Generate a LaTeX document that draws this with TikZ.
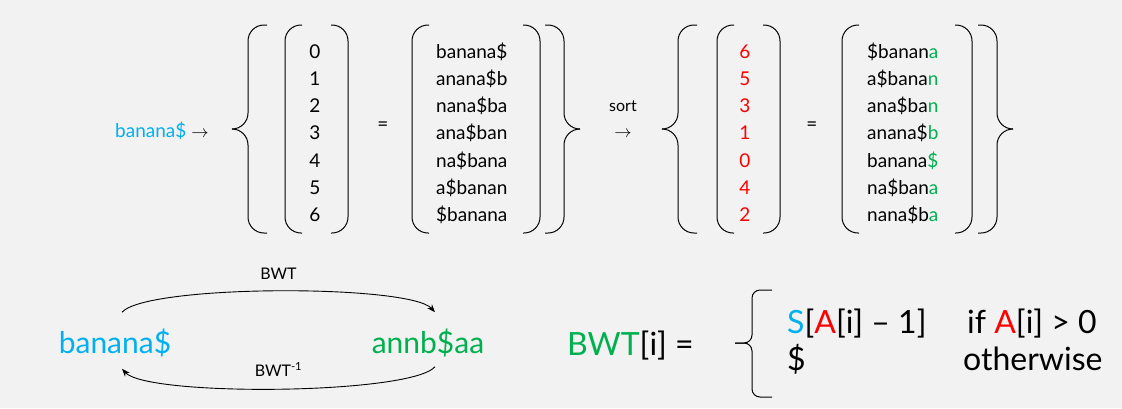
\documentclass[tikz,border=0pt]{standalone}
\usepackage{fontspec}
\setmainfont{Lato}
\usepackage{xcolor}
\usetikzlibrary{arrows.meta}

\definecolor{blau}{HTML}{00B0F0}
\definecolor{gruen}{HTML}{00B050}
\definecolor{rot}{HTML}{FF0000}
\definecolor{hintergrund}{HTML}{F2F2F2}

\begin{document}
\begin{tikzpicture}[x=1pt, y=-1pt,
    eintrag/.style={font=\fontsize{19}{23}\selectfont, inner sep=0pt},
    beschriftung/.style={font=\fontsize{16}{19}\selectfont},
    gross/.style={font=\fontsize{30}{36}\selectfont, inner sep=0pt},
    formel/.style={font=\fontsize{32}{38}\selectfont, inner sep=0pt},
    klammer/.style={line width=1pt, rounded corners=16pt},
    pfeil/.style={-{Stealth[length=8pt,width=6pt]}, line width=0.9pt}]

    % Hintergrund
    \fill[hintergrund] (0,0) rectangle (1122,408);
    \useasboundingbox (0,0) rectangle (1122,408);

    % Zeilenabstand in der Matrix
    \def\z{27.3}

    % Eingabe
    \node[eintrag, anchor=base west] (eingabe) at (115,137) {\textcolor{blau}{banana\$} $\rightarrow$};

    % geschweifte Klammern links
    \foreach \x in {232, 662} {
        \draw[klammer] (\x+35,25) -- (\x+16,25) -- (\x+16,129) -- (\x,129);
        \draw[klammer] (\x+35,233) -- (\x+16,233) -- (\x+16,129) -- (\x,129);
    }
    % geschweifte Klammern rechts
    \foreach \x in {580, 1013} {
        \draw[klammer] (\x-35,25) -- (\x-16,25) -- (\x-16,129) -- (\x,129);
        \draw[klammer] (\x-35,233) -- (\x-16,233) -- (\x-16,129) -- (\x,129);
    }

    % runde Klammern
    \foreach \l/\r in {285/348, 412/540, 717/780, 842/972} {
        \draw[klammer] (\l+17,25) -- (\l,25) -- (\l,233) -- (\l+17,233);
        \draw[klammer] (\r-17,25) -- (\r,25) -- (\r,233) -- (\r-17,233);
    }

    % Rotationen
    \foreach \n [count=\i from 0] in {0,1,2,3,4,5,6} {
        \node[eintrag, anchor=base] (zahl\i) at (315, 58+\i*\z) {\n};
    }
    \foreach \w [count=\i from 0] in {banana\$, anana\$b, nana\$ba, ana\$ban, na\$bana, a\$banan, \$banana} {
        \node[eintrag, anchor=base west] (wort\i) at (436, 58+\i*\z) {\w};
    }
    \node[eintrag, anchor=base] (gleich1) at (383,130) {=};

    % sortieren
    \node[beschriftung] (sort) at (623,106) {sort};
    \node[eintrag, anchor=base] (sortpfeil) at (623,137) {$\rightarrow$};

    % sortierte Rotationen
    \foreach \n [count=\i from 0] in {6,5,3,1,0,4,2} {
        \node[eintrag, anchor=base, text=rot] (szahl\i) at (745, 58+\i*\z) {\n};
    }
    \foreach \vorne/\ende [count=\i from 0] in {\$banan/a, a\$bana/n, ana\$ba/n, anana\$/b, banana/\$, na\$ban/a, nana\$b/a} {
        \node[eintrag, anchor=base west] (swort\i) at (867, 58+\i*\z) {\vorne\textcolor{gruen}{\ende}};
    }
    \node[eintrag, anchor=base] (gleich2) at (812,130) {=};

    % BWT und Umkehrung
    \node[gross, anchor=base, text=blau] (text) at (115,353) {banana\$};
    \node[gross, anchor=base, text=gruen] (bwt) at (428,353) {annb\$aa};
    \draw[pfeil] ([shift={(7,-16)}]text.north) .. controls +(25,-28) and +(-25,-28) .. ([shift={(7,-16)}]bwt.north)
        node[beschriftung, midway, above=8pt] (hin) {BWT};
    \draw[pfeil] ([shift={(7,10)}]bwt.south) .. controls +(-25,28) and +(25,28) .. ([shift={(7,12)}]text.south)
        node[beschriftung, midway, above=8pt] (rueck) {BWT\textsuperscript{-1}};

    % Definition
    \node[formel, anchor=base west] (def) at (567,355) {\textcolor{gruen}{BWT}[i] =};
    \draw[klammer, rounded corners=8pt] (772,290) -- (752,290) -- (752,343) -- (735,343);
    \draw[klammer, rounded corners=8pt] (772,397) -- (752,397) -- (752,343) -- (735,343);
    \node[formel, anchor=base west] (fall1) at (787,333) {\textcolor{blau}{S}[\textcolor{rot}{A}[i] \textendash{} 1]};
    \node[formel, anchor=base west] (bed1) at (967,333) {if \textcolor{rot}{A}[i] > 0};
    \node[formel, anchor=base west] (fall2) at (787,370) {\$};
    \node[formel, anchor=base west] (bed2) at (963,370) {otherwise};
\end{tikzpicture}
\end{document}
